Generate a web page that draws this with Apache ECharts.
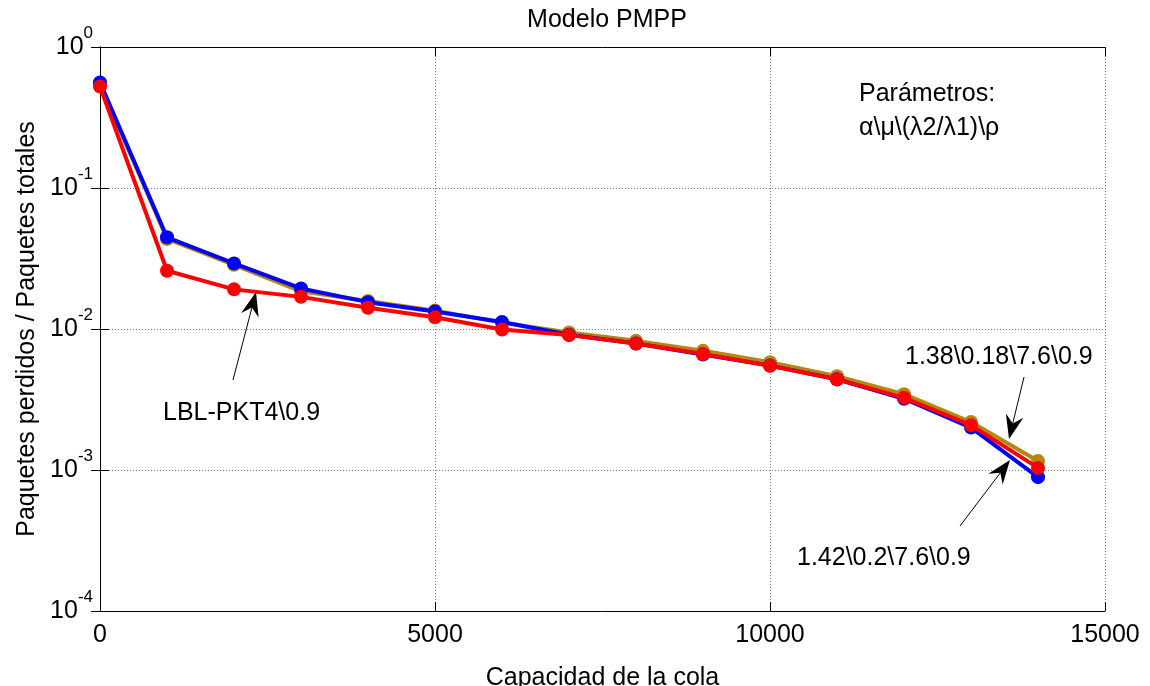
<!DOCTYPE html>
<html>
<head>
<meta charset="utf-8">
<script src="https://cdn.jsdelivr.net/npm/echarts@6/dist/echarts.min.js"></script>
<style>html,body{margin:0;padding:0;background:#fff}#c{width:1150px;height:686px}</style>
</head>
<body>
<div id="c"></div>
<script>
const capacity = [0,1000,2000,3000,4000,5000,6000,7000,8000,9000,10000,11000,12000,13000,14000];
const seriesBrown = [0.55, 0.0435, 0.0285, 0.0185, 0.0158, 0.0135, 0.0111, 0.00946, 0.00824, 0.0070, 0.00582, 0.00463, 0.00345, 0.00219, 0.00116];
const seriesBlue  = [0.56, 0.0447, 0.0292, 0.0194, 0.0155, 0.0133, 0.0112, 0.0091, 0.0079, 0.0066, 0.0055, 0.0044, 0.0032, 0.00200, 0.00089];
const seriesRed   = [0.524, 0.0259, 0.0191, 0.0169, 0.01415, 0.0121, 0.00993, 0.00905, 0.0079, 0.00664, 0.00548, 0.00439, 0.00325, 0.00208, 0.001035];
const xTicks = [0, 5000, 10000, 15000];
const yTickExponents = [0, -1, -2, -3, -4];

const FONT = 'Liberation Sans, Arial, sans-serif';
const chart = echarts.init(document.getElementById('c'));
const pair = (ys) => capacity.map((x, i) => [x, ys[i]]);
const mk = (name, ys, color, z) => ({
  name, type: 'line', data: pair(ys), z,
  symbol: 'circle', symbolSize: 14,
  lineStyle: { color, width: 4 },
  itemStyle: { color },
  emphasis: { disabled: true }
});

const gridLine = { show: true, lineStyle: { color: '#7a7a7a', type: [1, 2], width: 1 } };
const axisLineStyle = { show: true, lineStyle: { color: '#000', width: 1 } };

chart.setOption({
  animation: false,
  backgroundColor: '#fff',
  title: { text: 'Modelo PMPP', left: 602, textAlign: 'center', top: 3,
    textStyle: { fontFamily: FONT, fontSize: 25, fontWeight: 'normal', color: '#000' } },
  grid: { left: 100, right: 45, top: 47, bottom: 75, containLabel: false, outerBoundsMode: 'none' },
  xAxis: [{
    type: 'value', min: xTicks[0], max: xTicks[xTicks.length-1], interval: 5000,
    name: 'Capacidad de la cola', nameLocation: 'middle', nameGap: 55,
    nameTextStyle: { fontFamily: FONT, fontSize: 25, color: '#000' },
    axisLine: axisLineStyle,
    axisTick: { show: true, inside: true, length: 9, lineStyle: { color: '#000' } },
    axisLabel: { fontFamily: FONT, fontSize: 25, color: '#000', margin: 12, formatter: (v) => String(v) },
    splitLine: gridLine
  }, {
    type: 'value', position: 'top', min: 0, max: 15000, interval: 5000,
    axisLine: axisLineStyle,
    axisTick: { show: true, inside: true, length: 9, lineStyle: { color: '#000' } },
    axisLabel: { show: false }, splitLine: { show: false }
  }],
  yAxis: [{
    type: 'log', logBase: 10, min: Math.pow(10, yTickExponents[4]), max: Math.pow(10, yTickExponents[0]),
    name: 'Paquetes perdidos / Paquetes totales', nameLocation: 'middle', nameGap: 56,
    nameTextStyle: { fontFamily: FONT, fontSize: 25, color: '#000' },
    axisLine: axisLineStyle,
    axisTick: { show: true, inside: true, length: 9, lineStyle: { color: '#000' } },
    minorTick: { show: false },
    axisLabel: {
      margin: 7, color: '#000',
      formatter: (v) => '{b|10}{s|' + Math.round(Math.log10(v)) + '}',
      rich: {
        b: { fontFamily: FONT, fontSize: 25, lineHeight: 25, color: '#000' },
        s: { fontFamily: FONT, fontSize: 17, lineHeight: 17, color: '#000', padding: [0, 0, 28, 0] }
      }
    },
    splitLine: gridLine
  }, {
    type: 'log', logBase: 10, position: 'right', min: 1e-4, max: 1,
    axisLine: axisLineStyle,
    axisTick: { show: true, inside: true, length: 9, lineStyle: { color: '#000' } },
    axisLabel: { show: false }, splitLine: { show: false }
  }],
  series: [
    mk('1.38\\0.18\\7.6\\0.9', seriesBrown, '#b8860b', 2),
    mk('1.42\\0.2\\7.6\\0.9', seriesBlue, '#0000ff', 3),
    mk('LBL-PKT4\\0.9', seriesRed, '#ff0000', 4)
  ]
});

// annotations
const texts = [
  { t: 'Parámetros:', x: 859, y: 94 },
  { t: 'α\\μ\\(λ2/λ1)\\ρ', x: 859, y: 128 },
  { t: 'LBL-PKT4\\0.9', x: 163, y: 413 },
  { t: '1.38\\0.18\\7.6\\0.9', x: 905, y: 357 },
  { t: '1.42\\0.2\\7.6\\0.9', x: 797, y: 558 }
];
const arrows = [
  { from: [233, 380], to: [256, 292] },
  { from: [1024, 377], to: [1009, 439] },
  { from: [960, 526], to: [1010, 460] }
];
const graphic = [];
texts.forEach(o => graphic.push({ type: 'text', z: 100, style: { text: o.t, x: o.x, y: o.y, fill: '#000', fontFamily: FONT, fontSize: 25, verticalAlign: 'middle', align: 'left' } }));
arrows.forEach(a => {
  const [x1, y1] = a.from, [x2, y2] = a.to;
  const dx = x2 - x1, dy = y2 - y1, L = Math.hypot(dx, dy);
  const ux = dx / L, uy = dy / L, px = -uy, py = ux;
  const len = 24, hw = 9, notch = 16;
  const bx = x2 - ux * len, by = y2 - uy * len;
  const nx = x2 - ux * notch, ny = y2 - uy * notch;
  graphic.push({ type: 'line', z: 100, shape: { x1, y1, x2: nx, y2: ny }, style: { stroke: '#000', lineWidth: 1 } });
  graphic.push({ type: 'polygon', z: 100, shape: { points: [[x2, y2], [bx + px * hw, by + py * hw], [nx, ny], [bx - px * hw, by - py * hw]] }, style: { fill: '#000' } });
});
chart.setOption({ graphic });
</script>
</body>
</html>
